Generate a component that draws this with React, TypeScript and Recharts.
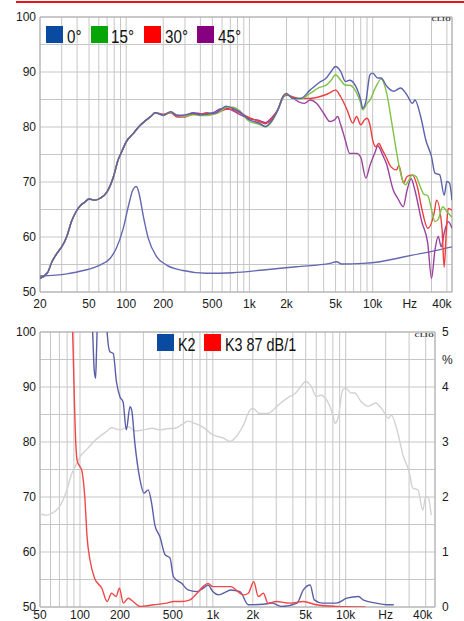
import React from "react";
import {
  LineChart,
  Line,
  XAxis,
  YAxis,
  CartesianGrid,
  ReferenceArea,
} from "recharts";

// ---- frequency response (top), dB SPL ----
const LOW_FREQ = [
  20, 23, 25, 28, 30, 33, 36, 39, 43, 46, 50, 56, 61, 70, 79, 86, 92, 100, 114,
  130, 146, 160, 172, 200, 230, 260, 300, 350, 400, 450, 520, 580, 650, 730,
  830, 1000, 1200, 1350, 1500,
];
const LOW_SPL_0 = [
  52.5, 53.5, 55.5, 57.3, 58.2, 60.1, 62.8, 64.5, 65.8, 66.3, 66.9, 66.7, 67,
  68.2, 71, 74, 75.5, 77.3, 78.8, 80.3, 81.3, 82, 82.6, 82.2, 82.8, 82, 82.2,
  82.5, 82.2, 82.4, 82.5, 83.1, 83.8, 83.4, 82.8, 81.3, 80.7, 80.1, 81,
];
const LOW_SPL_15 = [
  52.5, 53.5, 55.5, 57.3, 58.2, 60.1, 62.8, 64.5, 65.8, 66.3, 66.9, 66.7, 67,
  68.2, 71, 74, 75.5, 77.3, 78.8, 80.3, 81.3, 82, 82.6, 82.2, 82.7, 82.1, 82,
  82.2, 82.1, 82.1, 82.4, 82.8, 83.6, 83.6, 83, 81, 80.5, 80, 80.8,
];
const LOW_SPL_30 = [
  52.5, 53.5, 55.5, 57.3, 58.2, 60.1, 62.8, 64.5, 65.8, 66.3, 66.9, 66.7, 67,
  68.2, 71, 74, 75.5, 77.3, 78.8, 80.3, 81.3, 82, 82.6, 82.3, 82.6, 81.8, 81.8,
  82.3, 82.3, 82.6, 82.4, 82.8, 83.2, 83.2, 82.6, 81.7, 81, 80.6, 81.3,
];
const LOW_SPL_45 = [
  52.5, 53.5, 55.5, 57.3, 58.2, 60.1, 62.8, 64.5, 65.8, 66.3, 66.9, 66.7, 67,
  68.2, 71, 74, 75.5, 77.3, 78.8, 80.3, 81.3, 82, 82.6, 82.1, 82.7, 82.2, 82.1,
  82.6, 82.4, 82.3, 82.7, 83.3, 83.4, 83, 82.3, 81.5, 81.2, 80.8, 81.6,
];

const HI_FREQ_0 = [
  1700, 1900, 2000, 2250, 2600, 3100, 3700, 4200, 4600, 5000, 5500, 6000, 6500,
  7200, 8000, 8300, 8800, 9500, 10000, 11000, 11700, 13000, 14800, 16800,
  19000, 21000, 22000, 24500, 27000, 30000, 32000, 35000, 38000, 40000, 42000,
  44000,
];
const HI_SPL_0 = [
  83.1, 85.8, 86.1, 85.2, 85.2, 86.7, 88.1, 88.9, 90.1, 91, 90.1, 88.3, 88.5,
  87.6, 84.9, 83.4, 84.6, 89.5, 89.8, 88.9, 88.9, 87.4, 86.5, 87.1, 85.8, 84.3,
  84.9, 81.9, 77.6, 74.6, 71.6, 71.3, 67.6, 70.1, 69.8, 66.7,
];
const HI_FREQ_15 = [
  1700, 1900, 2000, 2250, 2600, 3100, 3700, 4200, 4600, 5000, 5500, 6000, 6500,
  7200, 8000, 8300, 9000, 9500, 10500, 11700, 13000, 14300, 15600, 16500,
  17500, 18500, 19500, 21000, 22500, 24000, 26000, 28000, 30000, 32000, 34000,
  37000, 40000, 44000,
];
const HI_SPL_15 = [
  83, 85.6, 86, 85.2, 85.1, 86.1, 87.2, 87.6, 88.5, 89.5, 88.5, 87.6, 87.6,
  86.7, 84.3, 83.1, 84.3, 84.9, 87.1, 88.7, 86.1, 80.7, 75.5, 72.5, 70.3, 69.5,
  70.2, 71.3, 71, 69.5, 67.8, 67.5, 65, 62.8, 63.2, 65.5, 64.6, 63.6,
];
const HI_FREQ_30 = [
  1700, 1900, 2000, 2500, 3100, 3700, 4300, 5000, 5500, 6200, 6900, 7400, 8000,
  8600, 9000, 9500, 10000, 10600, 11200, 12000, 12800, 14000, 15600, 16300,
  17800, 19000, 21000, 23000, 25000, 28000, 31500, 33000, 36500, 38000, 39500,
  41000, 44000,
];
const HI_SPL_30 = [
  83.2, 85.7, 85.8, 85.2, 85.2, 85.5, 86, 86.7, 85.5, 83.1, 80.7, 81.9, 80.4,
  81.3, 81.6, 80.4, 77.6, 76.4, 77, 75.8, 74.6, 72.8, 72.2, 73, 69.8, 71, 71.3,
  69.2, 65.2, 61.6, 64.3, 66.7, 61.6, 54.5, 60.7, 65.2, 64.9,
];
const HI_FREQ_45 = [
  1700, 1900, 2050, 2500, 2800, 3100, 3500, 4000, 4500, 4900, 5200, 5500, 6000,
  6500, 7400, 8000, 8800, 9500, 10500, 11000, 11500, 12000, 12900, 14700,
  16000, 17700, 19000, 20500, 22000, 25000, 28000, 30000, 32000, 34000, 36000,
  38000, 41000, 44000,
];
const HI_SPL_45 = [
  83.1, 85.5, 85.8, 84.6, 84.3, 84.9, 84.3, 82.5, 81, 81.3, 81.9, 80.4, 77.6,
  75.2, 75.2, 74.5, 70.7, 73, 75.5, 76.6, 76, 75, 73.4, 68.5, 67, 65.5, 68.5,
  70.6, 68.5, 62.8, 58.8, 52.5, 57.6, 60.1, 58.2, 60.7, 62.8, 61.6,
];

// impedance curve (plotted on the dB grid)
const IMP_FREQ = [
  20, 33, 45, 61, 74, 83, 94, 104, 113, 117, 120, 123, 127, 138, 151, 177, 213,
  290, 445, 735, 1300, 2400, 4500, 5100, 5600, 8300, 11500, 15600, 21000,
  29000, 44000,
];
const IMP_VAL = [
  52.9, 53.3, 53.9, 54.9, 56.1, 57.9, 61.3, 65.5, 68.5, 69, 69.2, 69, 68, 63.7,
  59.8, 56.4, 54.9, 53.9, 53.4, 53.5, 54, 54.6, 55.2, 55.5, 55.1, 55.2, 55.5,
  56.1, 56.7, 57.3, 58.2,
];

// ---- distortion (bottom), % ----
const K2_FREQ = [
  110, 124.5, 128, 131, 133, 134.5, 140, 155, 160, 168, 178, 188, 200, 211, 223,
  238, 245, 259, 270, 283, 303, 326, 346, 366, 399, 437, 476, 505, 582, 650,
  760, 843, 920, 1000, 1100, 1270, 1360, 1600, 1850, 2400, 2800, 3300, 4300,
  4800, 5400, 5800, 6700, 8500, 10200, 12500, 13500, 17000, 20300, 23000,
];
const K2_PCT = [
  7, 5, 4.3, 4.16, 4.6, 5, 6.5, 6.5, 5, 4.64, 4.61, 4.1, 3.82, 3.73, 3.22, 3.64,
  3.58, 2.97, 2.61, 2.31, 2.07, 2.13, 1.89, 1.49, 1.28, 0.95, 0.89, 0.55, 0.43,
  0.31, 0.28, 0.34, 0.4, 0.28, 0.22, 0.28, 0.31, 0.28, 0.04, 0.05, 0.07, 0.01,
  0.07, 0.31, 0.4, 0.13, 0.07, 0.07, 0.16, 0.19, 0.13, 0.07, 0.04, 0.04,
];
const K3_FREQ = [
  80, 88, 93, 95, 100, 103, 109, 113, 119, 129, 146, 160, 173, 187, 198, 212,
  231, 251, 283, 358, 449, 505, 582, 673, 760, 843, 920, 1000, 1200, 1360,
  1700, 1850, 2030, 2200, 2400, 2600, 3000, 3800, 4800, 6000, 8500, 14000,
];
const K3_PCT = [
  8, 5, 2.97, 2.67, 2.55, 2.49, 1.95, 1.28, 0.85, 0.52, 0.34, 0.1, 0.25, 0.19,
  0.34, 0.07, 0.16, 0.1, 0.01, 0.04, 0.07, 0.1, 0.1, 0.13, 0.25, 0.37, 0.43,
  0.37, 0.37, 0.37, 0.22, 0.25, 0.46, 0.19, 0.25, 0.07, 0.1, 0.07, 0.1, 0.04,
  0.01, 0,
];

// axis ticks / labels
const TOP_GRID_FREQS = [
  20, 30, 40, 50, 60, 70, 80, 90, 100, 200, 300, 400, 500, 600, 700, 800, 900,
  1000, 2000, 3000, 4000, 5000, 6000, 7000, 8000, 9000, 10000, 20000, 30000,
  40000,
];
const BOTTOM_GRID_FREQS = TOP_GRID_FREQS.filter((f) => f >= 50);
const FREQ_LABELS: Record<number, string> = {
  20: "20",
  50: "50",
  100: "100",
  200: "200",
  500: "500",
  1000: "1k",
  2000: "2k",
  5000: "5k",
  10000: "10k",
  20000: "Hz",
  40000: "40k",
};
const DB_TICKS = [50, 55, 60, 65, 70, 75, 80, 85, 90, 95, 100];
const PCT_TICKS = [0, 1, 2, 3, 4, 4.5, 5];

const zip = (f: number[], v: number[]) => f.map((x, i) => ({ f: x, v: v[i] }));

const rows0 = zip([...LOW_FREQ, ...HI_FREQ_0], [...LOW_SPL_0, ...HI_SPL_0]);
const rows15 = zip([...LOW_FREQ, ...HI_FREQ_15], [...LOW_SPL_15, ...HI_SPL_15]);
const rows30 = zip([...LOW_FREQ, ...HI_FREQ_30], [...LOW_SPL_30, ...HI_SPL_30]);
const rows45 = zip([...LOW_FREQ, ...HI_FREQ_45], [...LOW_SPL_45, ...HI_SPL_45]);
const rowsImp = zip(IMP_FREQ, IMP_VAL);
const rowsGray = rows0.filter((r) => r.f >= 50);
const rowsK2 = zip(K2_FREQ, K2_PCT);
const rowsK3 = zip(K3_FREQ, K3_PCT);

const TICK_FONT = "'Liberation Sans', Arial, sans-serif";
const GRID = "#c6c6c6";

function FreqTick(props: any) {
  const { x, y, payload, shift } = props;
  const label = FREQ_LABELS[payload.value];
  if (!label) return null;
  const dx = payload.value === 40000 ? shift : 0;
  return (
    <text
      x={x + dx}
      y={y}
      dy="0.71em"
      textAnchor="middle"
      fontSize={12}
      fontFamily={TICK_FONT}
      fill="#1a1a1a"
    >
      {label}
    </text>
  );
}

// condensed legend text: regular sans squeezed horizontally
function NarrowText({ x, y, size, children }: any) {
  return (
    <text
      transform={`translate(${x},${y}) scale(0.8,1)`}
      fontFamily={TICK_FONT}
      fontSize={size}
      fill="#111"
    >
      {children}
    </text>
  );
}

const yTick = { fontSize: 12, fontFamily: TICK_FONT, fill: "#1a1a1a" };

export default function App() {
  return (
    <div
      style={{
        position: "absolute",
        left: 0,
        top: 0,
        width: 464,
        height: 621,
        background: "#fff",
        overflow: "hidden",
      }}
    >
      <div
        style={{
          position: "absolute",
          left: 16,
          top: 1,
          width: 448,
          height: 2,
          background: "#e8141c",
        }}
      />

      <div style={{ position: "absolute", left: 0, top: 0 }}>
        <LineChart
          width={464}
          height={310}
          margin={{ top: 17, right: 12, bottom: 0, left: 16 }}
        >
          <CartesianGrid stroke={GRID} />
          <XAxis
            type="number"
            dataKey="f"
            scale="log"
            domain={[20, 44000]}
            ticks={TOP_GRID_FREQS}
            interval={0}
            height={18}
            tickSize={0}
            tickMargin={7}
            axisLine={false}
            tickLine={false}
            allowDataOverflow
            tick={<FreqTick shift={-5} />}
          />
          <YAxis
            type="number"
            domain={[50, 100]}
            ticks={DB_TICKS}
            interval={0}
            width={24}
            tickSize={0}
            tickMargin={4}
            axisLine={false}
            tickLine={false}
            tick={yTick}
            tickFormatter={(v: number) => (v % 10 === 0 ? String(v) : "")}
          />
          <ReferenceArea
            x1={20}
            x2={44000}
            y1={50}
            y2={100}
            fill="none"
            stroke="#aeaeae"
          />
          <Line data={rowsImp} dataKey="v" type="monotone" dot={false} stroke="#6468b0" strokeWidth={1.4} isAnimationActive={false} />
          <Line data={rows45} dataKey="v" type="monotone" dot={false} stroke="#9a42a0" strokeWidth={1.4} isAnimationActive={false} />
          <Line data={rows30} dataKey="v" type="monotone" dot={false} stroke="#f03c3c" strokeWidth={1.4} isAnimationActive={false} />
          <Line data={rows15} dataKey="v" type="monotone" dot={false} stroke="#80c244" strokeWidth={1.4} isAnimationActive={false} />
          <Line data={rows0} dataKey="v" type="monotone" dot={false} stroke="#5a62ad" strokeWidth={1.4} isAnimationActive={false} />
        </LineChart>
      </div>

      <div style={{ position: "absolute", left: 0, top: 315 }}>
        <LineChart
          width={464}
          height={306}
          margin={{ top: 17, right: 7, bottom: 0, left: 16 }}
        >
          <CartesianGrid stroke={GRID} yAxisId="db" />
          <XAxis
            type="number"
            dataKey="f"
            scale="log"
            domain={[50, 47000]}
            ticks={BOTTOM_GRID_FREQS}
            interval={0}
            height={14}
            tickSize={0}
            tickMargin={3}
            axisLine={false}
            tickLine={false}
            allowDataOverflow
            tick={<FreqTick shift={-3} />}
          />
          <YAxis
            yAxisId="db"
            type="number"
            domain={[50, 100]}
            ticks={DB_TICKS}
            interval={0}
            width={24}
            tickSize={0}
            tickMargin={4}
            axisLine={false}
            tickLine={false}
            tick={yTick}
            tickFormatter={(v: number) => (v % 10 === 0 ? String(v) : "")}
          />
          <YAxis
            yAxisId="pct"
            orientation="right"
            type="number"
            domain={[0, 5]}
            ticks={PCT_TICKS}
            interval={0}
            width={22}
            tickSize={0}
            tickMargin={7}
            axisLine={false}
            tickLine={false}
            allowDataOverflow
            tick={yTick}
            tickFormatter={(v: number) => (v === 4.5 ? "%" : String(v))}
          />
          <ReferenceArea
            yAxisId="db"
            x1={50}
            x2={47000}
            y1={50}
            y2={100}
            fill="none"
            stroke="#aeaeae"
          />
          <Line yAxisId="db" data={rowsGray} dataKey="v" type="monotone" dot={false} stroke="#d2d2d2" strokeWidth={1.4} isAnimationActive={false} />
          <Line yAxisId="pct" data={rowsK2} dataKey="v" type="monotone" dot={false} stroke="#5a5ea8" strokeWidth={1.4} isAnimationActive={false} />
          <Line yAxisId="pct" data={rowsK3} dataKey="v" type="monotone" dot={false} stroke="#f04848" strokeWidth={1.4} isAnimationActive={false} />
        </LineChart>
      </div>

      <svg
        width={464}
        height={621}
        style={{ position: "absolute", left: 0, top: 0, pointerEvents: "none" }}
      >
        <rect x={46} y={26} width={17} height={17} fill="#0a4aa0" />
        <NarrowText x={67} y={43} size={19}>0°</NarrowText>
        <rect x={91} y={26} width={17} height={17} fill="#08a508" />
        <NarrowText x={111} y={43} size={19}>15°</NarrowText>
        <rect x={144} y={26} width={17} height={17} fill="#ff0000" />
        <NarrowText x={165} y={43} size={19}>30°</NarrowText>
        <rect x={197} y={26} width={17} height={17} fill="#860080" />
        <NarrowText x={218} y={43} size={19}>45°</NarrowText>

        <rect x={157} y={334} width={17} height={17} fill="#0a4aa0" />
        <NarrowText x={178} y={351} size={18}>K2</NarrowText>
        <rect x={204} y={334} width={17} height={17} fill="#ff0000" />
        <NarrowText x={225} y={351} size={18}>K3 87 dB/1</NarrowText>

        <g
          fontFamily="'Liberation Serif', 'Times New Roman', serif"
          fontWeight="bold"
          fontSize={7}
          letterSpacing={0.4}
          fill="#333"
          textAnchor="end"
        >
          <text x={451} y={21}>CLIO</text>
          <text x={434} y={337}>CLIO</text>
        </g>
      </svg>
    </div>
  );
}
